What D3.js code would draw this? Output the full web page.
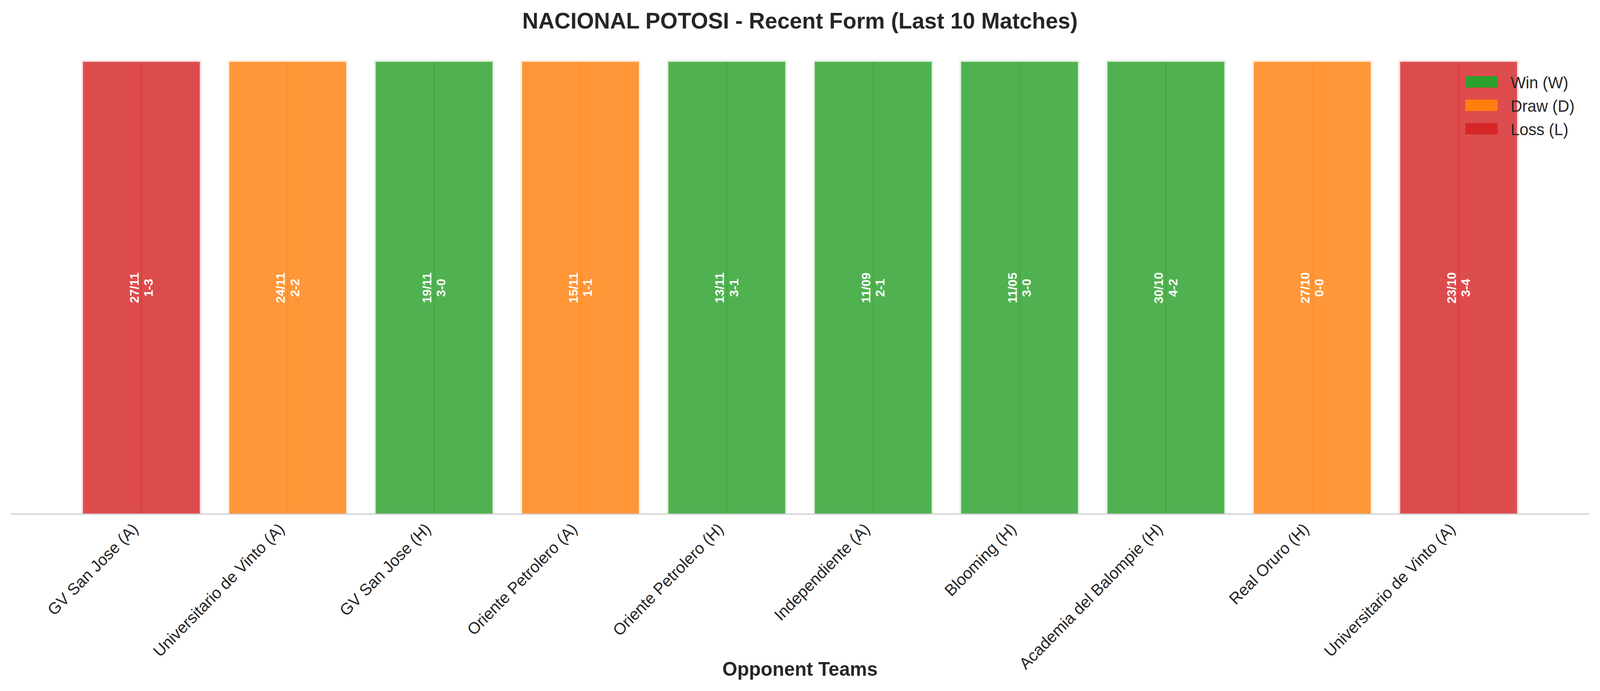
<!DOCTYPE html>
<html>
<head>
<meta charset="utf-8">
<script src="https://d3js.org/d3.v7.min.js"></script>
<style>
  html, body { margin: 0; padding: 0; background: #fff; overflow: hidden; }
  svg { display: block; width: 100vw; height: 100vh; }
  text { font-family: "Liberation Sans", Arial, sans-serif; }
</style>
</head>
<body>
<div id="chart"></div>
<script>
const opponents = ["GV San Jose (A)", "Universitario de Vinto (A)", "GV San Jose (H)", "Oriente Petrolero (A)",
  "Oriente Petrolero (H)", "Independiente (A)", "Blooming (H)", "Academia del Balompie (H)",
  "Real Oruro (H)", "Universitario de Vinto (A)"];
const dates = ["27/11", "24/11", "19/11", "15/11", "13/11", "11/09", "11/05", "30/10", "27/10", "23/10"];
const scores = ["1-3", "2-2", "3-0", "1-1", "3-1", "2-1", "3-0", "4-2", "0-0", "3-4"];
const results = ["L", "D", "W", "D", "W", "W", "W", "W", "D", "L"];
const legendLabels = ["Win (W)", "Draw (D)", "Loss (L)"];
const legendKeys = ["W", "D", "L"];
const colors = {W: "#2ca02c", D: "#ff7f0e", L: "#d62728"};

const width = 4170, height = 1769;
const plot = {left: 29, right: 4141, top: 100, bottom: 1316};

const svg = d3.select("#chart")
  .append("svg")
    .attr("viewBox", `0 0 ${width} ${height}`)
    .attr("preserveAspectRatio", "none");

const n = opponents.length;
const x = d3.scaleLinear()
  .domain([-0.89, n - 1 + 0.89])
  .range([plot.left, plot.right]);
const y = d3.scaleLinear()
  .domain([0, 1.05])
  .range([plot.bottom, plot.top]);

const data = opponents.map((o, i) => ({i: i, opp: o, date: dates[i], score: scores[i], res: results[i]}));

// faint halo behind each bar (edge blending)
svg.append("g").selectAll("rect")
  .data(data)
  .join("rect")
    .attr("x", d => x(d.i - 0.4) - 4)
    .attr("y", y(1) - 4)
    .attr("width", x(0.8) - x(0) + 8)
    .attr("height", y(0) - y(1) + 4)
    .attr("fill", d => colors[d.res])
    .attr("opacity", 0.14);

svg.append("g").selectAll("rect")
  .data(data)
  .join("rect")
    .attr("x", d => x(d.i - 0.4))
    .attr("y", y(1))
    .attr("width", x(0.8) - x(0))
    .attr("height", y(0) - y(1))
    .attr("fill", d => colors[d.res])
    .attr("fill-opacity", 0.8)
    .attr("stroke", "#fff")
    .attr("stroke-opacity", 0.35)
    .attr("stroke-width", 1.5);

// darker center line in each bar
svg.append("g").selectAll("line")
  .data(data)
  .join("line")
    .attr("x1", d => x(d.i))
    .attr("x2", d => x(d.i))
    .attr("y1", y(1))
    .attr("y2", y(0))
    .attr("stroke", d => colors[d.res])
    .attr("stroke-opacity", 0.4)
    .attr("stroke-width", 3);

// date + score labels
const lab = svg.append("g").selectAll("text")
  .data(data)
  .join("text")
    .attr("transform", d => `translate(${x(d.i)},${y(0.5)}) rotate(-90)`)
    .attr("text-anchor", "middle")
    .attr("fill", "#fff")
    .attr("font-weight", "bold")
    .attr("font-size", 32);
lab.append("tspan")
    .attr("x", 0)
    .attr("y", -18.5)
    .attr("dominant-baseline", "central")
    .text(d => d.date);
lab.append("tspan")
    .attr("x", 0)
    .attr("y", 18.5)
    .attr("dominant-baseline", "central")
    .text(d => d.score);

// bottom spine
svg.append("line")
    .attr("x1", plot.left)
    .attr("x2", plot.right)
    .attr("y1", plot.bottom)
    .attr("y2", plot.bottom)
    .attr("stroke", "#cccccc")
    .attr("stroke-width", 3);

// tick labels
svg.append("g").selectAll("text")
  .data(data)
  .join("text")
    .attr("transform", d => `translate(${x(d.i) - 6},${plot.bottom + 41}) rotate(-45)`)
    .attr("text-anchor", "end")
    .attr("fill", "#262626")
    .attr("font-size", 41.7)
    .text(d => d.opp);

// title and axis label
svg.append("text")
    .attr("x", (plot.left + plot.right) / 2)
    .attr("y", 73)
    .attr("text-anchor", "middle")
    .attr("font-weight", "bold")
    .attr("font-size", 58)
    .attr("fill", "#262626")
    .text("NACIONAL POTOSI - Recent Form (Last 10 Matches)");

svg.append("text")
    .attr("x", (plot.left + plot.right) / 2)
    .attr("y", 1730)
    .attr("text-anchor", "middle")
    .attr("font-weight", "bold")
    .attr("font-size", 50)
    .attr("fill", "#262626")
    .text("Opponent Teams");

// legend
const legend = svg.append("g")
  .selectAll("g")
  .data(legendKeys)
  .join("g")
    .attr("transform", (d, i) => `translate(3819,${195 + i * 60})`);
legend.append("rect")
    .attr("width", 84)
    .attr("height", 29)
    .attr("fill", d => colors[d]);
legend.append("text")
    .attr("x", 118)
    .attr("y", 31)
    .attr("font-size", 41.7)
    .attr("fill", "#262626")
    .text((d, i) => legendLabels[i]);
</script>
</body>
</html>
